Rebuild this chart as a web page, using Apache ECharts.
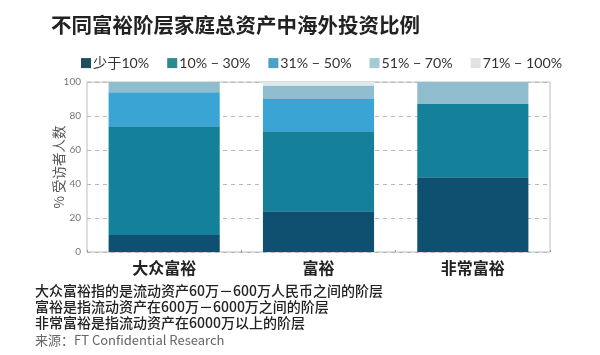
<!DOCTYPE html>
<html>
<head>
<meta charset="utf-8">
<script src="https://cdn.jsdelivr.net/npm/echarts@6/dist/echarts.min.js"></script>
<style>
  html, body { margin: 0; padding: 0; background: #ffffff; }
  #chart { width: 600px; height: 355px; }
</style>
</head>
<body>
<div id="chart"></div>
<script>
// Wealth tiers and share of respondents by overseas-investment ratio (%)
const categories = ['大众富裕', '富裕', '非常富裕'];
const seriesNames = ['少于10%', '10% − 30%', '31% − 50%', '51% − 70%', '71% − 100%'];
const lessThan10 = [10, 24, 44];
const from10to30 = [64, 47, 43];
const from31to50 = [20, 19, 0];
const from51to70 = [6, 8, 13];
const from71to100 = [0, 2, 0];
const yTicks = [0, 20, 40, 60, 80, 100];

const seriesData = [lessThan10, from10to30, from31to50, from51to70, from71to100];
const colors = ['#0f4f6f', '#14809a', '#3aa5d4', '#8fbdcd', '#dfe8ec'];
const legendColors = ['#1d4e5e', '#2a8a90', '#4aa2c9', '#a4cbd3', '#e2e2e2'];

const FONT = '"Noto Sans CJK SC", "Noto Sans", sans-serif';
const LATIN = 'Lato, "Noto Sans CJK SC", sans-serif';
const chart = echarts.init(document.getElementById('chart'), null, { renderer: 'canvas' });

const notes = [
  '大众富裕指的是流动资产60万－600万人民币之间的阶层',
  '富裕是指流动资产在600万－6000万之间的阶层',
  '非常富裕是指流动资产在6000万以上的阶层'
];

chart.setOption({
  backgroundColor: '#ffffff',
  animation: false,
  title: {
    text: '不同富裕阶层家庭总资产中海外投资比例',
    left: 46, top: 10,
    textStyle: { fontFamily: FONT, fontSize: 20.5, fontWeight: 'bold', color: '#222' }
  },
  legend: {
    top: 51, left: 76,
    itemWidth: 10, itemHeight: 10, itemGap: 18,
    icon: 'rect',
    textStyle: { fontFamily: LATIN, fontSize: 14.2, color: '#333', padding: [0, 0, 0, -3] },
    data: seriesNames.map((n, i) => ({ name: n, itemStyle: { color: legendColors[i] } }))
  },
  grid: {
    left: 87, right: 50, top: 82, bottom: 103,
    show: true, borderColor: '#bdbdbd', borderWidth: 1, backgroundColor: 'transparent'
  },
  xAxis: {
    type: 'category',
    data: categories,
    axisLine: { show: false },
    axisTick: { show: true, inside: true, length: 2, lineStyle: { color: '#999' } },
    axisLabel: { fontFamily: FONT, fontSize: 16, fontWeight: 'bold', color: '#222', margin: 8 }
  },
  yAxis: {
    type: 'value',
    min: 0, max: 100, interval: 20,
    name: '% 受访者人数',
    nameLocation: 'middle',
    nameRotate: 90,
    nameGap: 21,
    nameMoveOverlap: false,
    nameTextStyle: { fontFamily: FONT, fontSize: 13.5, color: '#555' },
    axisLine: { show: false },
    axisTick: { show: false },
    axisLabel: {
      fontFamily: LATIN, fontSize: 10, color: '#777', margin: 6,
      formatter: v => (yTicks.includes(v) ? String(v) : '')
    },
    splitLine: { show: true, lineStyle: { color: '#b8b8b8', type: [4, 4], width: 1 } }
  },
  series: seriesData.map((d, i) => ({
    name: seriesNames[i],
    type: 'bar',
    stack: 'total',
    barWidth: '72%',
    data: d,
    itemStyle: { color: colors[i] }
  })),
  graphic: [
    ...notes.map((t, i) => ({
      type: 'text', left: 35, top: 284 + i * 16,
      style: { text: t, font: '500 14px ' + FONT, fill: '#222' }
    })),
    {
      type: 'text', left: 35, top: 334,
      style: { text: '来源：FT Confidential Research', font: '13px ' + FONT, fill: '#666' }
    }
  ]
});
</script>
</body>
</html>
